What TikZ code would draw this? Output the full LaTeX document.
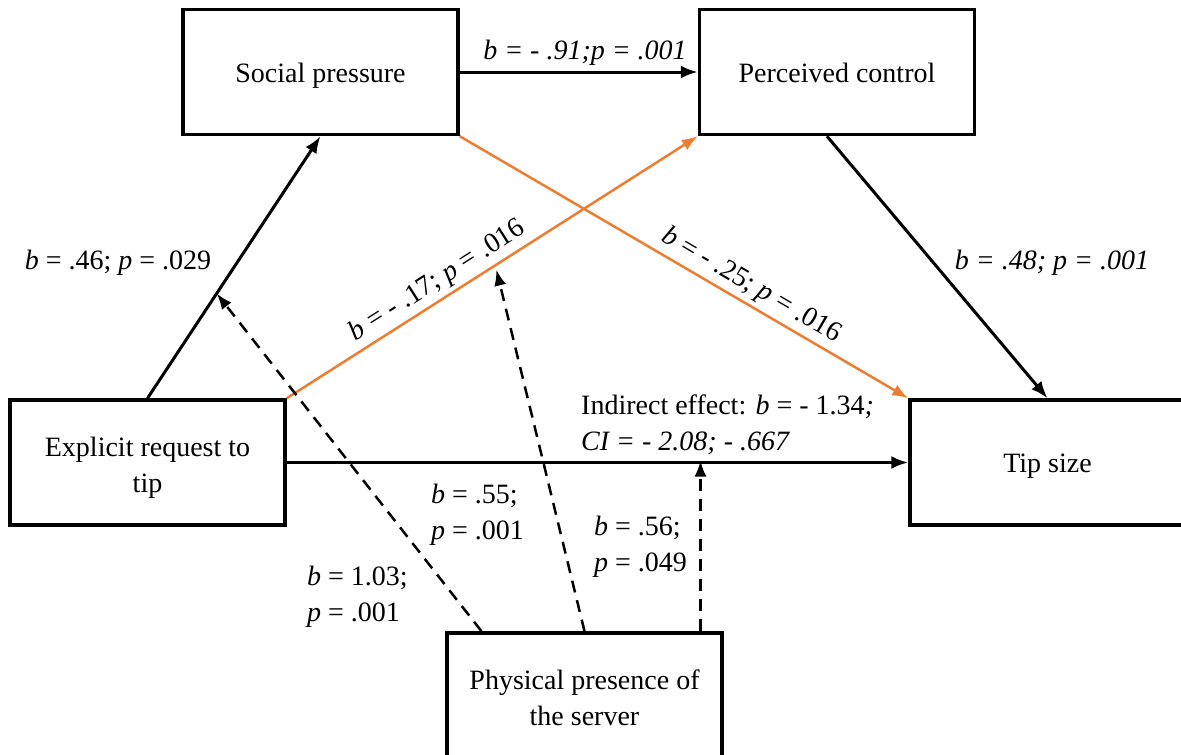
\documentclass[tikz,border=0pt]{standalone}
\usepackage{fontspec}
\setmainfont{Liberation Serif}
\usetikzlibrary{arrows.meta,calc}
\definecolor{orng}{HTML}{ED7D31}
\begin{document}
\begin{tikzpicture}[x=1pt,y=-1pt,
  box/.style={draw,line width=3.5pt,minimum width=275pt,minimum height=125pt,align=center,inner sep=0pt,font=\fontsize{28}{36}\selectfont},
  one/.style={text height=26pt,text depth=6pt},
  lbl/.style={inner sep=0pt,font=\fontsize{28}{36}\selectfont,align=left},
  blk/.style={line width=3pt,-{Latex[length=17pt,width=13pt]}},
  org/.style={line width=2.5pt,draw=orng,-{Latex[length=16pt,width=12pt]}},
  dsh/.style={line width=2.5pt,dash pattern=on 12pt off 8pt,-{Latex[length=16pt,width=12pt]}}]
\useasboundingbox (0,0) rectangle (1181,755);
\begin{scope}
\clip (0,0) rectangle (1181,755);
\node[box,one] (sp) at (320.5,72) {Social pressure};
\node[box,one] (pc) at (837,72) {Perceived control};
\node[box,text height=66pt] (ex) at (147.5,462.5) {Explicit request to\\tip};
\node[box,one] (tip) at (1047.5,462.5) {Tip size};
\node[box,text height=60pt] (ph) at (584.5,695.5) {Physical presence of\\the server};
\end{scope}

\coordinate (d1e) at ($(ex.north)!0.4!(sp.south)$);
\coordinate (d2e) at ($(ex.north east)!0.51!(pc.south west)+(0,5)$);
\coordinate (d1s) at ([xshift=-103]ph.north);
\coordinate (d3s) at ([xshift=116]ph.north);
\coordinate (d3e) at (d3s |- ex.east);

\draw[blk] (ex.north) -- (sp.south);
\draw[blk] (sp.east) -- (pc.west);
\draw[blk] ([xshift=-10]pc.south) -- (tip.north);
\draw[blk] (ex.east) -- (tip.west);
\draw[org] (ex.north east) -- node[pos=0.39,sloped,above=4pt,text=black,lbl] {\textit{b} = - .17; \textit{p} = .016} (pc.south west);
\draw[org] (sp.south east) -- node[pos=0.63,sloped,above=4pt,text=black,lbl] {\textit{b} = - .25; \textit{p} = .016} (tip.north west);
\draw[dsh] (d1s) -- (d1e);
\draw[dsh] (ph.north) -- (d2e);
\draw[dsh] (d3s) -- ([yshift=2]d3e);

\node[lbl] (l1) at (118,263) {\textit{b} = .46; \textit{p} = .029};
\node[lbl] (l2) at (585,53) {\textit{b = - .91;p = .001}};
\node[lbl] (l3) at (1052,263) {\textit{b = .48; p = .001}};
\node[lbl,anchor=west] (l4) at (581,425) {Indirect effect: \textit{b} = - 1.34\textit{;}\\\textit{CI = - 2.08; - .667}};
\node[lbl,anchor=west] (l5) at (431,515) {\textit{b} = .55;\\\textit{p} = .001};
\node[lbl,anchor=west] (l6) at (594,547) {\textit{b} = .56;\\\textit{p} = .049};
\node[lbl,anchor=west] (l7) at (307,597) {\textit{b} = 1.03;\\\textit{p} = .001};
\end{tikzpicture}
\end{document}
